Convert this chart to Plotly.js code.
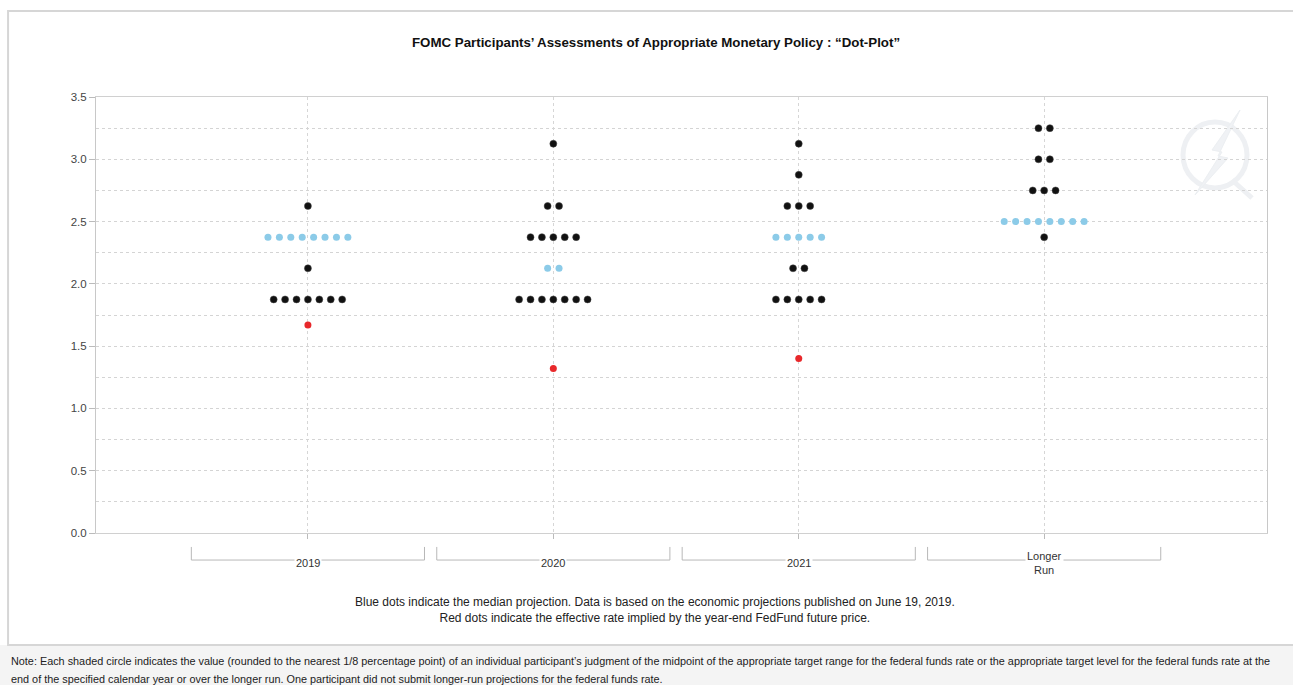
<!DOCTYPE html>
<html>
<head>
<meta charset="utf-8">
<script src="https://cdn.plot.ly/plotly-3.0.1.min.js"></script>
<style>
html,body{margin:0;padding:0;background:#fff;}
#chart{width:1293px;height:685px;}
</style>
</head>
<body>
<div id="chart"></div>
<script>
// ---- Data ----
const categories = ['2019', '2020', '2021', 'Longer<br>Run'];

const rates2019  = [2.625, 2.375, 2.125, 1.875];
const counts2019 = [1, 8, 1, 7];

const rates2020  = [3.125, 2.625, 2.375, 2.125, 1.875];
const counts2020 = [1, 2, 5, 2, 7];

const rates2021  = [3.125, 2.875, 2.625, 2.375, 2.125, 1.875];
const counts2021 = [1, 1, 3, 5, 2, 5];

const ratesLonger  = [3.25, 3.0, 2.75, 2.5, 2.375];
const countsLonger = [2, 2, 3, 8, 1];

const medianRates = [2.375, 2.125, 2.375, 2.5];
const futuresRates = [1.67, 1.32, 1.40, null];

const yTicks = [0, 0.5, 1.0, 1.5, 2.0, 2.5, 3.0, 3.5];

const titleText = 'FOMC Participants\u2019 Assessments of Appropriate Monetary Policy : \u201CDot-Plot\u201D';
const captionText = 'Blue dots indicate the median projection. Data is based on the economic projections published on June 19, 2019.<br>Red dots indicate the effective rate implied by the year-end FedFund future price.';
const noteLine1 = 'Note: Each shaded circle indicates the value (rounded to the nearest 1/8 percentage point) of an individual participant\u2019s judgment of the midpoint of the appropriate target range for the federal funds rate or the appropriate target level for the federal funds rate at the';
const noteLine2 = 'end of the specified calendar year or over the longer run. One participant did not submit longer-run projections for the federal funds rate.';

// ---- Build dot positions ----
const groups = [
  [rates2019, counts2019],
  [rates2020, counts2020],
  [rates2021, counts2021],
  [ratesLonger, countsLonger]
];
const step = 0.0465;
const blackX = [], blackY = [], blueX = [], blueY = [];
groups.forEach(([rates, counts], ci) => {
  rates.forEach((r, k) => {
    const n = counts[k];
    for (let j = 0; j < n; j++) {
      const x = ci + (j - (n - 1) / 2) * step;
      if (r === medianRates[ci]) { blueX.push(x); blueY.push(r); }
      else { blackX.push(x); blackY.push(r); }
    }
  });
});
const redX = [], redY = [];
futuresRates.forEach((v, ci) => { if (v !== null) { redX.push(ci); redY.push(v); } });

const traces = [
  {type: 'scatter', mode: 'markers', x: blackX, y: blackY, hoverinfo: 'y',
   marker: {size: 7, color: '#111111', line: {color: '#444', width: 0.5}}},
  {type: 'scatter', mode: 'markers', x: blueX, y: blueY, hoverinfo: 'y',
   marker: {size: 7, color: '#8ccbe8', line: {width: 0}}},
  {type: 'scatter', mode: 'markers', x: redX, y: redY, hoverinfo: 'y',
   marker: {size: 7, color: '#e8282b', line: {width: 0}}}
];

// ---- Decorations ----
const F = 'Liberation Sans, Arial, sans-serif';
const shapes = [];
// outer chart frame and grey note panel
shapes.push({type: 'rect', xref: 'paper', yref: 'paper', x0: -0.09, x1: 1.03, y0: -0.35, y1: -0.257,
  fillcolor: '#f4f4f4', line: {width: 0}, layer: 'below'});
shapes.push({type: 'rect', xref: 'paper', yref: 'paper', x0: -0.0751, x1: 1.03, y0: -0.257, y1: 1.197,
  fillcolor: 'rgba(0,0,0,0)', line: {color: '#d6d6d6', width: 2}, layer: 'below'});
// category brackets
categories.forEach((c, i) => {
  shapes.push({type: 'path', xref: 'x', yref: 'paper',
    path: `M ${i - 0.475},-0.032 L ${i - 0.475},-0.062 L ${i + 0.475},-0.062 L ${i + 0.475},-0.032`,
    line: {color: '#b8b8b8', width: 1}});
});
// faint watermark
const px = X => (X - 96) / 1171, py = Y => (533 - Y) / 436;
shapes.push({type: 'circle', xref: 'paper', yref: 'paper',
  x0: px(1183), x1: px(1247), y0: py(188), y1: py(122),
  line: {color: '#eef0f3', width: 5}, layer: 'below'});
shapes.push({type: 'path', xref: 'paper', yref: 'paper',
  path: `M ${px(1240)},${py(110)} L ${px(1212)},${py(150)} L ${px(1222)},${py(152)} L ${px(1195)},${py(195)} L ${px(1228)},${py(158)} L ${px(1218)},${py(156)} Z`,
  fillcolor: '#f0f2f5', line: {color: '#eceff2', width: 1}, layer: 'below'});
shapes.push({type: 'line', xref: 'paper', yref: 'paper',
  x0: px(1232), x1: px(1252), y0: py(180), y1: py(198),
  line: {color: '#eef0f3', width: 5}, layer: 'below'});

const annotations = [];
categories.forEach((c, i) => {
  annotations.push({x: i, xref: 'x', y: -0.069, yref: 'paper', text: c, showarrow: false,
    xanchor: 'center', yanchor: 'middle', bgcolor: '#ffffff', borderpad: 1,
    font: {family: F, size: 11, color: '#333'}});
});
annotations.push({x: px(655), xref: 'paper', y: py(610), yref: 'paper', text: captionText,
  showarrow: false, xanchor: 'center', yanchor: 'middle', align: 'center',
  font: {family: F, size: 12, color: '#222'}});
annotations.push({x: px(9), xref: 'paper', y: py(661), yref: 'paper', text: noteLine1,
  showarrow: false, xanchor: 'left', yanchor: 'middle', align: 'left',
  font: {family: F, size: 10.85, color: '#222'}});
annotations.push({x: px(9), xref: 'paper', y: py(679), yref: 'paper', text: noteLine2,
  showarrow: false, xanchor: 'left', yanchor: 'middle', align: 'left',
  font: {family: F, size: 10.85, color: '#222'}});

const layout = {
  width: 1293, height: 685,
  margin: {l: 96, r: 26, t: 97, b: 152, pad: 0},
  paper_bgcolor: '#ffffff', plot_bgcolor: '#ffffff',
  showlegend: false,
  title: {text: '<b>' + titleText + '</b>', xref: 'paper', x: px(656), xanchor: 'center',
    yref: 'container', y: 1 - 42 / 685, yanchor: 'middle',
    font: {family: F, size: 13.3, color: '#111'}},
  xaxis: {range: [-0.8635, 3.908], tickvals: [0, 1, 2, 3], showticklabels: false,
    ticks: 'outside', ticklen: 5, tickcolor: '#bbbbbb',
    showgrid: true, gridcolor: '#d6d6d6', griddash: 'dot', gridwidth: 1,
    zeroline: false, showline: true, linecolor: '#d0d0d0', linewidth: 1, mirror: true,
    fixedrange: true},
  yaxis: {range: [0, 3.5], tickvals: yTicks, tickformat: '.1f',
    ticks: 'outside', ticklen: 6, tickcolor: '#bbbbbb',
    tickfont: {family: F, size: 11.5, color: '#444'},
    showgrid: false, zeroline: false, showline: true, linecolor: '#c8c8c8', linewidth: 1, mirror: true,
    minor: {dtick: 0.25, tick0: 0, showgrid: true, gridcolor: '#d4d4d4', griddash: 'dot', ticks: ''},
    fixedrange: true},
  yaxis2: {overlaying: 'y', range: [0, 3.5], dtick: 1, tick0: 0, showticklabels: false,
    showgrid: true, gridcolor: '#dcdcdc', gridwidth: 1.5, zeroline: false, showline: false, ticks: '',
    fixedrange: true},
  shapes: shapes,
  annotations: annotations
};

Plotly.newPlot('chart', traces, layout, {displayModeBar: false, staticPlot: true});
</script>
</body>
</html>
